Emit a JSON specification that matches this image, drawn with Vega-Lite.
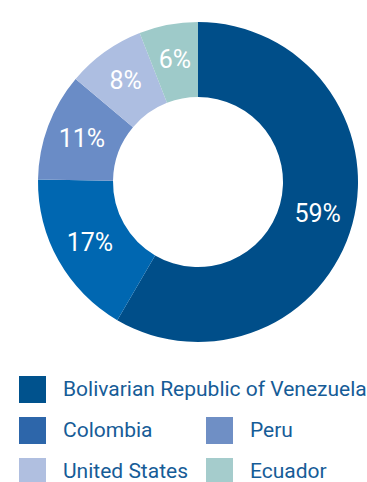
{
  "$schema": "https://vega.github.io/schema/vega-lite/v6.json",
  "width": 396,
  "height": 364,
  "padding": 0,
  "autosize": {"type": "pad"},
  "background": "white",
  "config": {"view": {"stroke": null}},
  "data": {
    "values": [
      {"country": "Bolivarian Republic of Venezuela", "value": 59, "label": "59%"},
      {"country": "Colombia", "value": 17, "label": "17%"},
      {"country": "Peru", "value": 11, "label": "11%"},
      {"country": "United States", "value": 8, "label": "8%"},
      {"country": "Ecuador", "value": 6, "label": "6%"}
    ]
  },
  "layer": [
    {
      "layer": [
        {
          "mark": {"type": "arc", "innerRadius": 85, "outerRadius": 160},
          "encoding": {
            "theta": {"field": "value", "type": "quantitative", "stack": true},
            "order": {"field": "value", "sort": "descending"},
            "color": {
              "field": "country",
              "type": "nominal",
              "legend": null,
              "scale": {
                "domain": ["Bolivarian Republic of Venezuela", "Colombia", "Peru", "United States", "Ecuador"],
                "range": ["#004e89", "#0067b1", "#6a8cc6", "#adbee1", "#9ecac9"]
              }
            }
          }
        },
        {
          "mark": {"type": "text", "radius": 124, "fontSize": 25, "font": "Roboto", "color": "white", "align": "center", "baseline": "middle"},
          "encoding": {
            "theta": {"field": "value", "type": "quantitative", "stack": true},
            "order": {"field": "value", "sort": "descending"},
            "detail": {"field": "country", "type": "nominal"},
            "text": {"field": "label", "type": "nominal"}
          }
        }
      ]
    },
    {
      "transform": [{"filter": "datum.country === 'Bolivarian Republic of Venezuela'"}],
      "mark": {"type": "arc", "opacity": 0},
      "encoding": {
        "color": {
          "field": "country",
          "type": "nominal",
          "scale": {"domain": ["Bolivarian Republic of Venezuela"], "range": ["#00528d"]},
          "legend": {
            "orient": "none",
            "legendX": 19,
            "legendY": 376,
            "title": null,
            "padding": 0,
            "symbolType": "square",
            "symbolSize": 729,
            "symbolOpacity": 1,
            "symbolStrokeWidth": 0,
            "labelOffset": 17,
            "labelLimit": 600,
            "labelFont": "Roboto",
            "labelFontSize": 21,
            "labelColor": "#165c97"
          }
        }
      }
    },
    {
      "transform": [{"filter": "datum.country !== 'Bolivarian Republic of Venezuela'"}],
      "mark": {"type": "arc", "opacity": 0},
      "encoding": {
        "color": {
          "field": "country",
          "type": "nominal",
          "scale": {"domain": ["Colombia", "United States", "Peru", "Ecuador"], "range": ["#2d66aa", "#b0bfe0", "#6f8fc5", "#a5cccc"]},
          "legend": {
            "orient": "none",
            "legendX": 19,
            "legendY": 417,
            "title": null,
            "padding": 0,
            "columns": 2,
            "columnPadding": 18,
            "rowPadding": 14,
            "symbolType": "square",
            "symbolSize": 729,
            "symbolOpacity": 1,
            "symbolStrokeWidth": 0,
            "labelOffset": 17,
            "labelLimit": 600,
            "labelFont": "Roboto",
            "labelFontSize": 21,
            "labelColor": "#165c97"
          }
        }
      }
    }
  ],
  "resolve": {"scale": {"color": "independent", "theta": "independent"}}
}
